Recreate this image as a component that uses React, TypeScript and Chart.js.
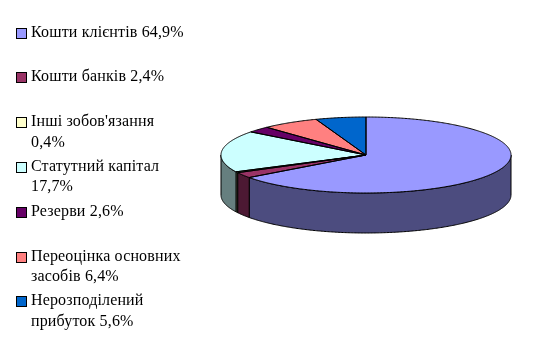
import React, { useEffect, useRef } from "react";
import { Chart, registerables } from "chart.js";

Chart.register(...registerables);

// ---- data ----
const categories = [
  "Кошти клієнтів",
  "Кошти банків",
  "Інші зобов'язання",
  "Статутний капітал",
  "Резерви",
  "Переоцінка основних засобів",
  "Нерозподілений прибуток",
];
const values = [64.9, 2.4, 0.4, 17.7, 2.6, 6.4, 5.6];
const colors = ["#9999FF", "#993366", "#FFFFCC", "#CCFFFF", "#660066", "#FF8080", "#0066CC"];

// ---- style ----
const TILT = 38 / 145; // vertical / horizontal radius of the top face
const DEPTH = 40; // pie thickness in px
const FONT = "'Liberation Serif', 'Times New Roman', serif";

const fmt = (v: number) => v.toFixed(1).replace(".", ",") + "%";

function darken(hex: string): string {
  const n = parseInt(hex.slice(1), 16);
  const r = ((n >> 16) & 255) >> 1;
  const g = ((n >> 8) & 255) >> 1;
  const b = (n & 255) >> 1;
  return `rgb(${r},${g},${b})`;
}

const pie3d = {
  id: "pie3d",
  beforeDatasetsDraw(chart: any) {
    const meta = chart.getDatasetMeta(0);
    const arcs = meta.data as any[];
    const ctx: CanvasRenderingContext2D = chart.ctx;
    if (!arcs.length) return;
    const p0 = arcs[0].getProps(["x", "y", "outerRadius"], true);
    const cx = p0.x, cy = p0.y, r = p0.outerRadius, ry = r * TILT;
    // side walls (front half only)
    arcs.forEach((arc, i) => {
      const { startAngle, endAngle } = arc.getProps(["startAngle", "endAngle"], true);
      for (const k of [-1, 0, 1]) {
        const lo = Math.max(startAngle, 2 * Math.PI * k);
        const hi = Math.min(endAngle, 2 * Math.PI * k + Math.PI);
        if (hi <= lo) continue;
        const steps = Math.max(2, Math.ceil((hi - lo) / 0.01));
        ctx.beginPath();
        for (let s = 0; s <= steps; s++) {
          const t = lo + ((hi - lo) * s) / steps;
          const x = cx + r * Math.cos(t), y = cy + ry * Math.sin(t);
          if (s === 0) ctx.moveTo(x, y); else ctx.lineTo(x, y);
        }
        for (let s = steps; s >= 0; s--) {
          const t = lo + ((hi - lo) * s) / steps;
          ctx.lineTo(cx + r * Math.cos(t), cy + ry * Math.sin(t) + DEPTH);
        }
        ctx.closePath();
        ctx.fillStyle = darken(colors[i]);
        ctx.fill();
        ctx.strokeStyle = "#000";
        ctx.lineWidth = 1;
        ctx.stroke();
      }
    });
    ctx.save();
    ctx.translate(cx, cy);
    ctx.scale(1, TILT);
    ctx.translate(-cx, -cy);
  },
  afterDatasetsDraw(chart: any) {
    const ctx: CanvasRenderingContext2D = chart.ctx;
    ctx.restore();
    const meta = chart.getDatasetMeta(0);
    const arcs = meta.data as any[];
    if (!arcs.length) return;
    arcs.forEach((arc) => {
      const { x: cx, y: cy, outerRadius: r, startAngle, endAngle } = arc.getProps(
        ["x", "y", "outerRadius", "startAngle", "endAngle"],
        true
      );
      const ry = r * TILT;
      const steps = Math.max(2, Math.ceil((endAngle - startAngle) / 0.01));
      ctx.beginPath();
      ctx.moveTo(cx, cy);
      for (let s = 0; s <= steps; s++) {
        const t = startAngle + ((endAngle - startAngle) * s) / steps;
        ctx.lineTo(cx + r * Math.cos(t), cy + ry * Math.sin(t));
      }
      ctx.closePath();
      ctx.strokeStyle = "#000";
      ctx.lineWidth = 1;
      ctx.stroke();
    });
  },
};

function PieChart() {
  const ref = useRef<HTMLCanvasElement>(null);
  useEffect(() => {
    if (!ref.current) return;
    const chart = new Chart(ref.current, {
      type: "pie",
      data: {
        labels: categories,
        datasets: [
          {
            data: values,
            backgroundColor: colors,
            borderWidth: 0,
          },
        ],
      },
      options: {
        animation: false,
        responsive: true,
        maintainAspectRatio: false,
        events: [],
        layout: { padding: { left: 221, right: 39, top: 10, bottom: 51 } },
        plugins: {
          legend: { display: false },
          tooltip: { enabled: false },
        },
      },
      plugins: [pie3d],
    });
    return () => chart.destroy();
  }, []);
  return (
    <div style={{ position: "absolute", left: 0, top: 0, width: 550, height: 351 }}>
      <canvas ref={ref} />
    </div>
  );
}

function Legend() {
  return (
    <div style={{ position: "absolute", left: 0, top: 0, width: 220, height: 351 }}>
      {categories.map((c, i) => (
        <div
          key={c}
          style={{
            position: "absolute",
            left: 16,
            top: 32 + 44.8 * i - 10.5,
            display: "flex",
            alignItems: "flex-start",
          }}
        >
          <div
            style={{
              width: 9,
              height: 9,
              marginTop: 6,
              background: colors[i],
              border: "1px solid #000",
              boxSizing: "content-box",
              flex: "none",
            }}
          />
          <div
            style={{
              marginLeft: 4,
              width: 157,
              font: `16px ${FONT}`,
              letterSpacing: "0.15px",
              lineHeight: "20.5px",
              color: "#000",
            }}
          >
            {c} {fmt(values[i])}
          </div>
        </div>
      ))}
    </div>
  );
}

export default function App() {
  return (
    <div style={{ position: "absolute", left: 0, top: 0, width: 550, height: 351, background: "#fff" }}>
      <PieChart />
      <Legend />
    </div>
  );
}
